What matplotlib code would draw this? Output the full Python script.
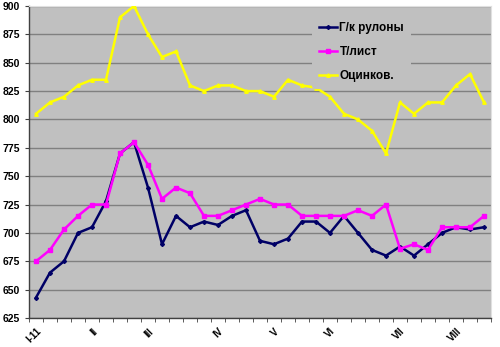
import numpy as np
import matplotlib.pyplot as plt

plt.rcParams['font.family'] = ['Liberation Sans', 'DejaVu Sans']

# weekly prices, Jan-Aug 2011
hot_rolled = [643, 665, 675, 700, 705, 728, 770, 780, 740, 690, 715, 705, 710, 707, 715, 720,
              693, 690, 695, 710, 710, 700, 715, 700, 685, 680, 688, 680, 690, 700, 705, 703, 705]
sheet = [675, 685, 703, 715, 725, 725, 770, 780, 760, 730, 740, 735, 715, 715, 720, 725,
         730, 725, 725, 715, 715, 715, 715, 720, 715, 725, 686, 690, 685, 705, 705, 705, 715]
galvanized = [805, 815, 820, 830, 835, 835, 890, 900, 875, 855, 860, 830, 825, 830, 830, 825,
              825, 820, 835, 830, 828, 820, 805, 800, 790, 770, 815, 805, 815, 815, 830, 840, 815]

month_pos = [0, 4, 8, 13, 17, 21, 26, 30]
month_labels = ['I-11', 'II', 'III', 'IV', 'V', 'VI', 'VII', 'VIII']

x = np.arange(len(hot_rolled))

fig = plt.figure(figsize=(5.0, 3.47), dpi=100)
ax = fig.add_axes([0.058, 0.0836, 0.924, 0.8991])
ax.set_facecolor('#c0c0c0')

ax.plot(x, hot_rolled, color='#000066', lw=1.8, marker='D', ms=2, label='Г/к рулоны', zorder=3)
ax.plot(x, sheet, color='#ff00ff', lw=1.8, marker='s', ms=2.5, label='Т/лист', zorder=3)
ax.plot(x, galvanized, color='#ffff00', lw=1.8, marker='^', ms=2.5, label='Оцинков.', zorder=3)

ax.set_xlim(-0.5, len(x) - 0.5)
ax.set_ylim(625, 900)
ax.set_yticks(np.arange(625, 901, 25))
ax.yaxis.grid(True, color='#808080', lw=1)
ax.set_axisbelow(True)

ax.set_xticks(month_pos)
ax.set_xticklabels(month_labels, rotation=45, ha='right', rotation_mode='anchor',
                   fontsize=7, fontweight='bold')
ax.set_xticks(np.arange(-0.5, len(x), 1), minor=True)
ax.tick_params(axis='x', which='major', length=0, pad=6)
ax.tick_params(axis='x', which='minor', length=3, color='#404040')
ax.tick_params(axis='y', length=3, color='#404040', labelsize=7.5)
for lbl in ax.get_yticklabels():
    lbl.set_fontweight('bold')

for side in ['top', 'right']:
    ax.spines[side].set_color('#e0e0e0')
for side in ['left', 'bottom']:
    ax.spines[side].set_color('#404040')
    ax.spines[side].set_linewidth(1)

leg = ax.legend(loc='upper right', bbox_to_anchor=(0.84, 0.99), frameon=True,
                prop={'size': 8.5, 'weight': 'bold'}, handlelength=1.5,
                handletextpad=0.2, labelspacing=1.0, borderpad=0.6)
leg.get_frame().set_facecolor('#c0c0c0')
leg.get_frame().set_edgecolor('none')
leg.get_frame().set_alpha(1)

fig.savefig('out.png', dpi=100)
